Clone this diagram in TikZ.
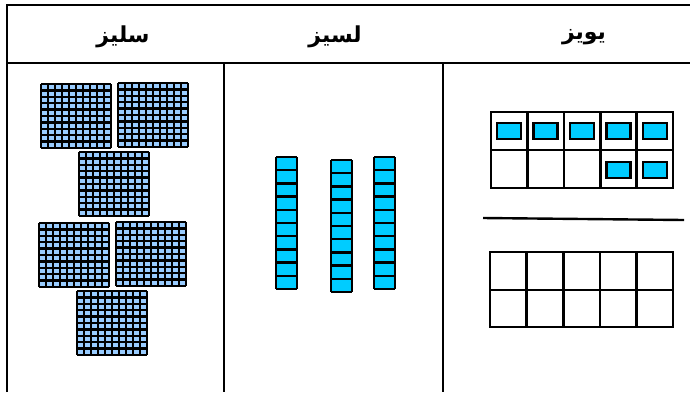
\documentclass[tikz,border=0pt]{standalone}
\usepackage{fontspec}
\newfontfamily\arabicfont[Script=Arabic, BoldFont={DejaVu Sans Bold}]{DejaVu Sans}
\TeXXeTstate=1
\definecolor{flatblue}{HTML}{99CCFF}
\definecolor{unitcyan}{HTML}{00CCFF}
\tikzset{
  tableline/.style={line width=2.4pt, black},
  gridline/.style={line width=2.3pt, black},
  frameline/.style={line width=2.6pt, black},
  counter/.style={fill=unitcyan, draw=black, line width=2.4pt},
  header/.style={font=\arabicfont\bfseries\fontsize{22}{26}\selectfont, inner sep=0pt}
}
\begin{document}
\begin{tikzpicture}[x=1pt,y=-1pt]
\useasboundingbox (0,0) rectangle (690,392);
% table
\draw[tableline] (7,392) -- (7,5) -- (690,5);
\draw[tableline] (7,63) -- (690,63);
\draw[tableline] (224,63) -- (224,392);
\draw[tableline] (443,63) -- (443,392);
% headers
\node[header] (h1) at (123,37) {\beginR سليز\endR};
\node[header] (h2) at (335,37) {\beginR لسيز\endR};
\node[header] (h3) at (584,37) {\beginR يويز\endR};
% hundreds flats
\foreach \x/\y in {41/84, 118/83, 79/152, 39/223, 116/222, 77/291} {
  \fill[flatblue] (\x,\y) rectangle ++(70,64);
  \foreach \i in {0,...,10} {
    \draw[gridline] (\x+\i*7,\y) -- ++(0,64);
    \draw[gridline] (\x,\y+\i*6.4) -- ++(70,0);
  }
}
% tens rods
\foreach \x/\y in {276/157, 331/160, 374/157} {
  \fill[unitcyan] (\x,\y) rectangle ++(21,132);
  \foreach \i in {0,...,10} {
    \draw[gridline] (\x,\y+\i*13.2) -- ++(21,0);
  }
  \draw[gridline] (\x,\y) -- ++(0,132);
  \draw[gridline] (\x+21,\y) -- ++(0,132);
}
% ten frame 1
\draw[frameline] (491,112) rectangle (673,188);
\draw[frameline] (491,150) -- (673,150);
\foreach \i in {1,...,4} {
  \draw[frameline] (491+\i*36.4,112) -- (491+\i*36.4,188);
}
\foreach \i in {0,...,4} {
  \draw[counter] (491+18.2+\i*36.4-12,131-8) rectangle ++(24,16);
}
\foreach \i in {3,4} {
  \draw[counter] (491+18.2+\i*36.4-12,170-8) rectangle ++(24,16);
}
% separator line
\coordinate (s1) at (483,218);
\coordinate (s2) at (684,220);
\draw[tableline] (s1) -- (s2);
% ten frame 2
\draw[frameline] (490,252) rectangle (673,327);
\draw[frameline] (490,290) -- (673,290);
\foreach \i in {1,...,4} {
  \draw[frameline] (490+\i*36.6,252) -- (490+\i*36.6,327);
}
\end{tikzpicture}
\end{document}
